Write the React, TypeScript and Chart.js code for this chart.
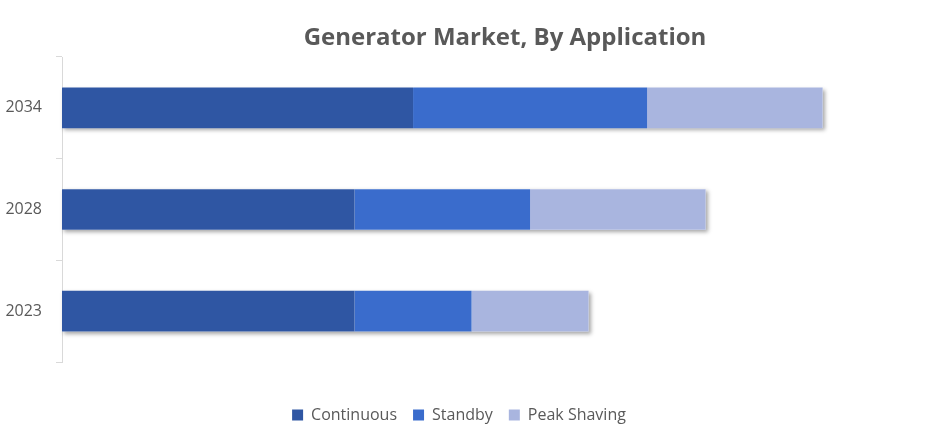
import { useEffect, useRef } from 'react';
import { Chart, registerables } from 'chart.js';

Chart.register(...registerables);

const years = ['2034', '2028', '2023'];
const continuous = [6, 5, 5];
const standby = [4, 3, 2];
const peakShaving = [3, 3, 2];

const titleText = 'Generator Market, By Application';
const textColor = '#595959';
const fontFamily = "'Open Sans', 'Noto Sans', sans-serif";

// title is centred over the bars, not over the canvas, so draw it by hand
const titlePlugin = {
	id: 'ownTitle',
	afterDraw(chart: Chart) {
		const ctx = chart.ctx;
		ctx.save();
		ctx.font = `bold 24px ${fontFamily}`;
		ctx.fillStyle = textColor;
		ctx.textAlign = 'center';
		ctx.textBaseline = 'alphabetic';
		ctx.fillText(titleText, 505, 45);
		ctx.restore();
	},
};

// soft shadow under each whole stacked bar
const shadowPlugin = {
	id: 'barShadow',
	beforeDatasetsDraw(chart: Chart) {
		const ctx = chart.ctx;
		const first = chart.getDatasetMeta(0).data;
		const last = chart.getDatasetMeta(chart.data.datasets.length - 1).data;
		ctx.save();
		ctx.shadowColor = 'rgba(0,0,0,0.35)';
		ctx.shadowBlur = 4;
		ctx.shadowOffsetX = 2;
		ctx.shadowOffsetY = 2;
		ctx.fillStyle = '#ffffff';
		first.forEach((el: any, i: number) => {
			const end: any = last[i];
			const h = el.height;
			ctx.fillRect(el.base, el.y - h / 2, end.x - el.base, h);
		});
		ctx.restore();
	},
};

const App = () => {
	const chartRef = useRef<HTMLCanvasElement>(null);
	const chartInstanceRef = useRef<Chart | null>(null);

	useEffect(() => {
		if (chartRef.current) {
			if (chartInstanceRef.current) {
				chartInstanceRef.current.destroy();
			}

			chartInstanceRef.current = new Chart(chartRef.current, {
				type: 'bar',
				data: {
					labels: years,
					datasets: [
						{ label: 'Continuous', data: continuous, backgroundColor: '#2f56a3' },
						{ label: 'Standby', data: standby, backgroundColor: '#3a6ccc' },
						{ label: 'Peak Shaving', data: peakShaving, backgroundColor: '#a9b5df' },
					],
				},
				options: {
					indexAxis: 'y',
					animation: false,
					responsive: true,
					maintainAspectRatio: false,
					layout: {
						padding: { top: 57, right: 22, bottom: 11, left: 0 },
					},
					datasets: {
						bar: { categoryPercentage: 1, barPercentage: 0.4 },
					},
					scales: {
						x: {
							stacked: true,
							min: 0,
							max: 14.63,
							grid: { display: false },
							border: { display: false },
							ticks: { display: false },
							afterFit: (scale: any) => {
								scale.height = 29;
							},
						},
						y: {
							stacked: true,
							grid: {
								drawOnChartArea: false,
								drawTicks: true,
								tickLength: 6,
								color: '#d9d9d9',
							},
							border: { display: true, color: '#d9d9d9' },
							ticks: {
								color: textColor,
								padding: 14,
								font: { family: fontFamily, size: 16 },
							},
							afterFit: (scale: any) => {
								scale.width = 62;
							},
						},
					},
					plugins: {
						title: { display: false },
						tooltip: { enabled: false },
						legend: {
							position: 'bottom',
							labels: {
								color: textColor,
								boxWidth: 11,
								boxHeight: 11,
								padding: 16,
								font: { family: fontFamily, size: 16 },
							},
						},
					},
				},
				plugins: [titlePlugin, shadowPlugin],
			});
		}

		return () => {
			if (chartInstanceRef.current) {
				chartInstanceRef.current.destroy();
			}
		};
	}, []);

	return (
		<div style={{ position: 'fixed', left: 0, top: 0, width: 940, height: 444, background: '#fff' }}>
			<canvas ref={chartRef} />
		</div>
	);
};

export default App;
